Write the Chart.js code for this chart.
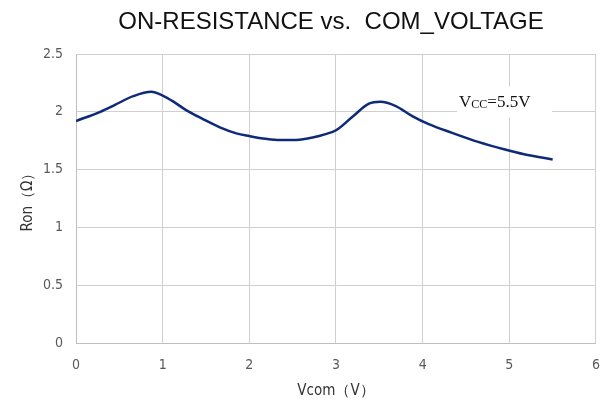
<!DOCTYPE html>
<html>
<head>
<meta charset="utf-8">
<script src="https://cdn.jsdelivr.net/npm/chart.js@4/dist/chart.umd.min.js"></script>
<style>
  html, body { margin: 0; padding: 0; background: #fff; }
  #wrap { width: 614px; height: 405px; position: relative; }
</style>
</head>
<body>
<div id="wrap"><canvas id="ronChart"></canvas></div>
<script>
// ── data ───────────────────────────────────────────────────────────────────
const vcom = [0, 0.28, 0.45, 0.66, 0.87, 1.0, 1.12, 1.27, 1.47, 1.66, 1.85, 2.0, 2.19, 2.35, 2.54, 2.73, 2.88,
              3.0, 3.19, 3.38, 3.51, 3.69, 3.88, 4.07, 4.34, 4.64, 4.95, 5.17, 5.5];
const ron  = [1.92, 2.0, 2.06, 2.135, 2.173, 2.14, 2.09, 2.015, 1.935, 1.865, 1.813, 1.79, 1.766, 1.755, 1.757, 1.778, 1.807,
              1.84, 1.957, 2.07, 2.087, 2.05, 1.963, 1.893, 1.818, 1.74, 1.674, 1.633, 1.587];
const xTicks = [0, 1, 2, 3, 4, 5, 6];
const yTicks = [0, 0.5, 1, 1.5, 2, 2.5];
const chartTitle = 'ON-RESISTANCE vs.  COM_VOLTAGE';
const noteText = ['V', 'CC', '=5.5V'];

const tickFont = { family: '"Liberation Sans Narrow", "DejaVu Sans Condensed", "Liberation Sans", sans-serif', size: 14 };
const gridColor = '#cfcfcf';

// title + Vcc note drawn on top of the chart
const decorPlugin = {
    id: 'decor',
    afterDraw(chart) {
        const ctx = chart.ctx;
        ctx.save();
        ctx.fillStyle = '#111';
        ctx.font = '24px "Liberation Sans", Arial, sans-serif';
        ctx.textAlign = 'center';
        ctx.textBaseline = 'middle';
        ctx.fillText(chartTitle, 331, 22);
        ctx.restore();
    },
    afterDatasetsDraw(chart) {
        const ctx = chart.ctx;
        const xs = chart.scales.x, ys = chart.scales.y;
        // note sits around Vcom≈4.4, Ron≈2.05
        const left = xs.getPixelForValue(4.42), cy = ys.getPixelForValue(2.09);
        ctx.save();
        ctx.fillStyle = '#fff';
        ctx.fillRect(left - 2, cy - 15, 95, 31);
        ctx.fillStyle = '#111';
        ctx.textBaseline = 'alphabetic';
        ctx.textAlign = 'left';
        const big = '17px "Liberation Serif", "Times New Roman", serif';
        const small = '12px "Liberation Serif", "Times New Roman", serif';
        let x = left;
        const base = cy + 6;
        ctx.font = big; ctx.fillText(noteText[0], x, base); x += ctx.measureText(noteText[0]).width;
        ctx.font = small; ctx.fillText(noteText[1], x, base + 1); x += ctx.measureText(noteText[1]).width;
        ctx.font = big; ctx.fillText(noteText[2], x, base);
        ctx.restore();
    }
};

new Chart(document.getElementById('ronChart'), {
    type: 'line',
    data: {
        datasets: [{
            data: vcom.map((v, i) => ({ x: v, y: ron[i] })),
            borderColor: '#0f2a78',
            borderWidth: 2.5,
            pointRadius: 0,
            tension: 0.4,
            cubicInterpolationMode: 'monotone',
            fill: false
        }]
    },
    options: {
        responsive: true,
        maintainAspectRatio: false,
        animation: false,
        layout: { padding: { top: 54, right: 16, left: 0, bottom: 0 } },
        plugins: {
            legend: { display: false },
            tooltip: { enabled: false }
        },
        scales: {
            x: {
                type: 'linear',
                min: 0, max: 6,
                afterBuildTicks: s => { s.ticks = xTicks.map(v => ({ value: v })); },
                afterFit: s => { s.height = 62; },
                ticks: { font: tickFont, color: '#595959', padding: 14, maxRotation: 0, callback: v => String(v) },
                grid: { color: gridColor, lineWidth: 1, drawTicks: false },
                border: { color: '#bfbfbf' },
                title: {
                    display: true,
                    text: 'Vcom（V）',
                    color: '#333',
                    font: { family: tickFont.family, size: 15 },
                    padding: { top: 0, bottom: 5 }
                }
            },
            y: {
                min: 0, max: 2.5,
                afterBuildTicks: s => { s.ticks = yTicks.map(v => ({ value: v })); },
                afterFit: s => { s.width = 76; },
                ticks: { font: tickFont, color: '#595959', padding: 13, callback: v => String(v) },
                grid: { color: gridColor, lineWidth: 1, drawTicks: false },
                border: { color: '#bfbfbf' },
                title: {
                    display: true,
                    text: 'Ron（Ω）',
                    color: '#333',
                    font: { family: tickFont.family, size: 15 },
                    padding: { top: 19, bottom: 0 }
                }
            }
        }
    },
    plugins: [decorPlugin]
});
</script>
</body>
</html>
